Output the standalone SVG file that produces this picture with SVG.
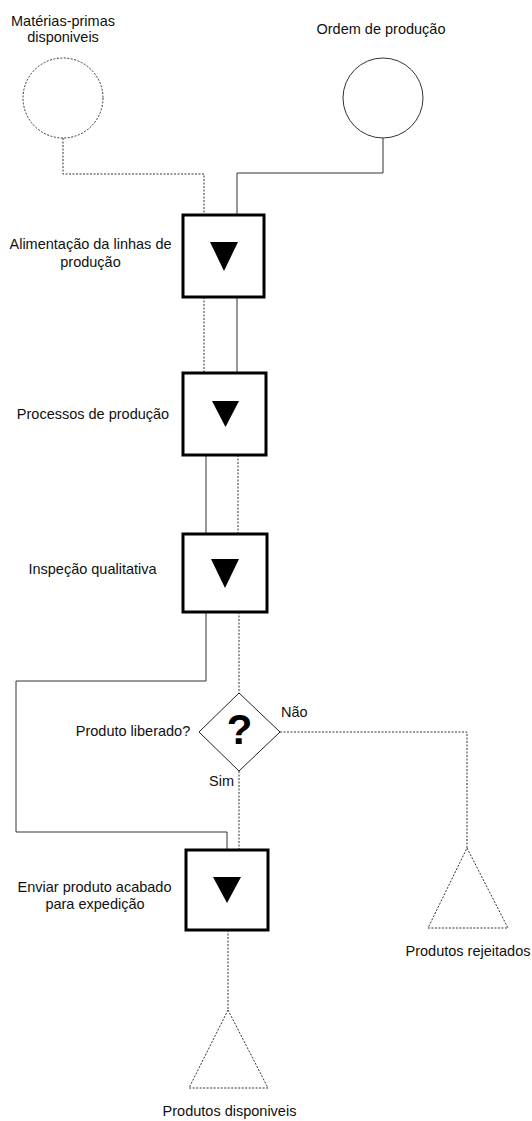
<svg xmlns="http://www.w3.org/2000/svg" width="532" height="1121" viewBox="0 0 532 1121">
  <style>
    .lbl { font-family: "Liberation Sans", Arial, sans-serif; font-size: 14.5px; fill: #111; }
    .mid { text-anchor: middle; }
    .box { fill: #fff; stroke: #000; stroke-width: 3; }
    .tri { fill: #000; }
    .solid { fill: none; stroke: #333; stroke-width: 1; }
    .dotted { fill: none; stroke: #333; stroke-width: 1; stroke-dasharray: 2 1.5; }
    .q { font-family: "Liberation Sans", Arial, sans-serif; font-size: 42px; font-weight: bold; fill: #000; text-anchor: middle; }
  </style>

  <rect width="532" height="1121" fill="#fff"/>

  <!-- connectors -->
  <g id="connectors">
    <path class="dotted" d="M63,138 V174 H204 V215"/>
    <path class="solid" d="M383,138 V173 H237 V215"/>
    <path class="dotted" d="M204,297 V373"/>
    <path class="solid" d="M237,297 V373"/>
    <path class="solid" d="M206,455 V534"/>
    <path class="dotted" d="M238,455 V534"/>
    <path class="solid" d="M206,612 V681 H16 V832 H227 V850"/>
    <path class="dotted" d="M239,612 V693"/>
    <path class="dotted" d="M280,732 H467 V848"/>
    <path class="dotted" d="M239,771 V850"/>
    <path class="dotted" d="M228,930 V1010"/>
  </g>

  <!-- inputs -->
  <g id="materias-primas">
    <circle class="dotted" cx="63" cy="98" r="40" fill="#fff"/>
    <text class="lbl mid" x="63" y="26">Matérias-primas</text>
    <text class="lbl mid" x="63" y="42">disponiveis</text>
  </g>
  <g id="ordem-producao">
    <circle class="solid" cx="383" cy="98" r="40"/>
    <text class="lbl mid" x="381" y="34">Ordem de produção</text>
  </g>

  <!-- process steps -->
  <g id="alimentacao">
    <rect class="box" x="183" y="215" width="81" height="82"/>
    <polygon class="tri" points="210,242 238,242 224,271"/>
    <text class="lbl mid" x="90.5" y="249">Alimentação da linhas de</text>
    <text class="lbl mid" x="90.5" y="267">produção</text>
  </g>
  <g id="processos">
    <rect class="box" x="183" y="373" width="83" height="82"/>
    <polygon class="tri" points="212,401 239,401 225.5,427"/>
    <text class="lbl mid" x="93" y="419">Processos de produção</text>
  </g>
  <g id="inspecao">
    <rect class="box" x="183" y="534" width="84" height="78"/>
    <polygon class="tri" points="211,559 239,559 225,588"/>
    <text class="lbl mid" x="92.5" y="574">Inspeção qualitativa</text>
  </g>

  <!-- decision -->
  <g id="decisao">
    <polygon points="239,693 280,732 239,771 199,732" fill="#fff" stroke="#222" stroke-width="1"/>
    <text class="q" x="239.5" y="744">?</text>
    <text class="lbl mid" x="133" y="736">Produto liberado?</text>
    <text class="lbl" x="281" y="717">Não</text>
    <text class="lbl" x="209" y="786">Sim</text>
  </g>

  <g id="enviar">
    <rect class="box" x="186" y="850" width="82" height="80"/>
    <polygon class="tri" points="213,877 241,877 227,903"/>
    <text class="lbl mid" x="94.5" y="892">Enviar produto acabado</text>
    <text class="lbl mid" x="95" y="909">para expedição</text>
  </g>

  <!-- outputs -->
  <g id="rejeitados">
    <polygon class="dotted" points="467,848 508,928 428,928"/>
    <text class="lbl mid" x="468" y="956">Produtos rejeitados</text>
  </g>
  <g id="disponiveis">
    <polygon class="dotted" points="228,1010 268,1088 189,1088"/>
    <text class="lbl mid" x="229.5" y="1116">Produtos disponiveis</text>
  </g>
</svg>
